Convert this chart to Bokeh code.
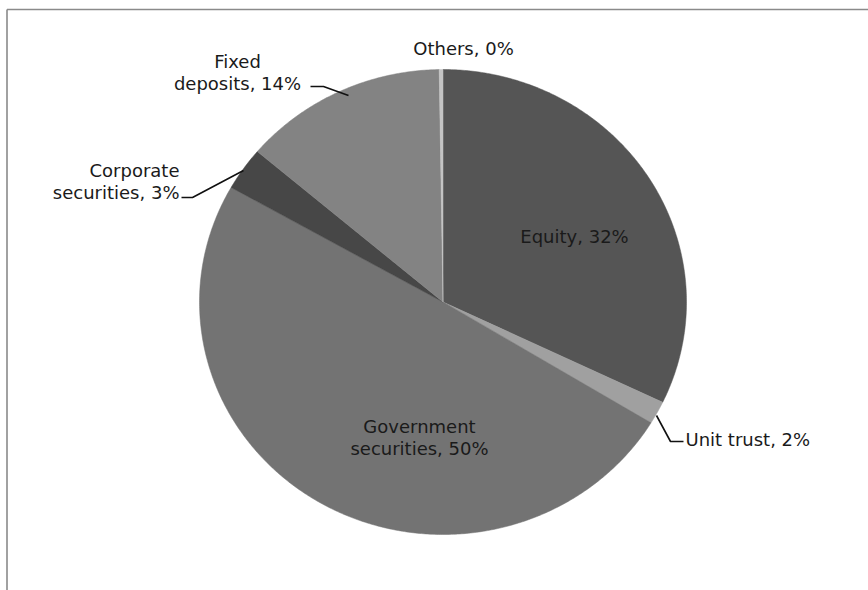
import numpy as np
from bokeh.plotting import figure
from bokeh.models import Range1d, ColumnDataSource
from bokeh.core.properties import value
from bokeh.embed import file_html
from bokeh.resources import INLINE

# ---- data ----
categories = ["Equity", "Unit trust", "Government securities",
              "Corporate securities", "Fixed deposits", "Others"]
shares = [32.1, 1.6, 49.5, 3.0, 13.55, 0.25]
pct_labels = ["32%", "2%", "50%", "3%", "14%", "0%"]
label_lines = [["Equity, 32%"], ["Unit trust, 2%"],
               ["Government", "securities, 50%"],
               ["Corporate", "securities, 3%"],
               ["Fixed", "deposits, 14%"], ["Others, 0%"]]
colors = ["#555555", "#a0a0a0", "#737373", "#474747", "#838383", "#c4c4c4"]

W, H = 868, 590
p = figure(width=W, height=H, output_backend="svg", toolbar_location=None,
           x_range=Range1d(0, W), y_range=Range1d(H, 0), min_border=0)
p.axis.visible = False
p.grid.visible = False
p.outline_line_color = None
p.background_fill_color = "white"
p.border_fill_color = "white"

# chart frame (left and top edges visible)
p.segment(x0=[6.5, 6.5], y0=[9, 9], x1=[6.5, W + 5], y1=[H + 5, 9],
          line_color="#8a8a8a", line_width=1.6)

# pie (slightly elliptical, as in the reference)
cx, cy, rx, ry = 442.5, 301.5, 243.5, 232.5
vals = np.array(shares, dtype=float)
frac = vals / vals.sum()
ends = np.cumsum(frac) * 2 * np.pi
starts = ends - frac * 2 * np.pi
xs, ys = [], []
for a0, a1 in zip(starts, ends):
    n = max(4, int((a1 - a0) / (2 * np.pi) * 720))
    t = np.linspace(a0, a1, n)
    xs.append([cx] + list(cx + rx * np.sin(t)) + [cx])
    ys.append([cy] + list(cy - ry * np.cos(t)) + [cy])
src = ColumnDataSource(dict(xs=xs, ys=ys, color=colors, cat=categories))
p.patches("xs", "ys", source=src, fill_color="color", line_color="color",
          line_width=0.5)

# leader lines
p.multi_line(xs=[[656, 670, 683], [243, 192, 181], [348, 323, 310]],
             ys=[[415, 441, 441], [170, 197, 197], [95, 86, 86]],
             line_color="#111111", line_width=1.6)

# labels (one text per line, 22 px line spacing)
font = value("DejaVu Sans")
lab_x = [574, 685, 419, 179, 237, 463]
lab_y = [236, 439, 436.5, 181, 71.7, 48]
aligns = ["center", "left", "center", "right", "center", "center"]
LH = 22
tx, ty, tt, ta = [], [], [], []
for lines, x, y, al in zip(label_lines, lab_x, lab_y, aligns):
    n = len(lines)
    for i, s in enumerate(lines):
        tx.append(x)
        ty.append(y + (i - (n - 1) / 2) * LH)
        tt.append(s)
        ta.append(al)
tsrc = ColumnDataSource(dict(x=tx, y=ty, text=tt, align=ta))
p.text("x", "y", text="text", source=tsrc, text_font=font,
       text_font_size="18px", text_color="#1a1a1a", text_align="align",
       text_baseline="middle")

open("out.html", "w").write(file_html(p, INLINE))
